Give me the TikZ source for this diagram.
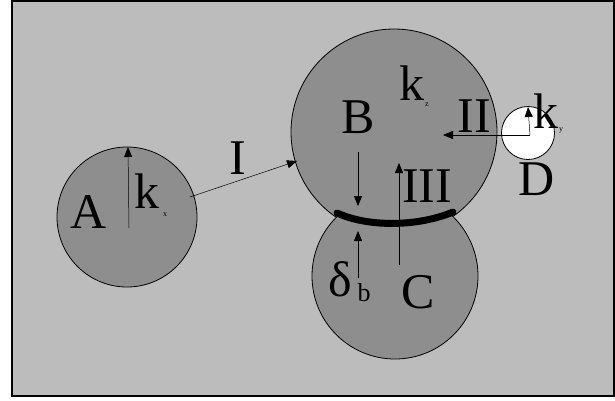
\documentclass[tikz,border=0pt]{standalone}
\usepackage{fontspec}
\setmainfont{Liberation Serif}
\usetikzlibrary{arrows.meta}
\definecolor{bggray}{RGB}{188,188,188}
\definecolor{ballgray}{RGB}{142,142,142}
\tikzset{
  ball/.style={fill=ballgray, draw=black, line width=0.8pt},
  lbl/.style={font=\fontsize{50}{50}\selectfont, inner sep=0pt},
  sub/.style={font=\fontsize{8}{8}\selectfont, inner sep=0pt},
  thinarrow/.style={draw=black, line width=0.5pt, -{Triangle[length=10pt,width=8pt]}},
}
\begin{document}
\begin{tikzpicture}[x=1pt,y=-1pt]
\useasboundingbox (0,0) rectangle (615,400);
\fill[bggray] (12,1) rectangle (614,396);
\draw[line width=1.5pt] (12,1) rectangle (614,396);
% circles
\node[ball, circle, minimum size=140pt, inner sep=0pt] (A) at (127,217) {};
\fill[ballgray, draw=black, line width=0.8pt] (395,276) circle (83);
\fill[ballgray, draw=black, line width=0.8pt] (394,132) circle (103);
\begin{scope}
  \clip (394,132) circle (104.5);
  \fill[ballgray] (395,276) circle (82.4);
\end{scope}
\coordinate (Bc) at (394,132);
\coordinate (Cc) at (395,276);
\node[circle, fill=white, draw=black, line width=0.8pt, minimum size=53pt, inner sep=0pt] (D) at (528,133) {};
% contact band
\coordinate (cl) at (337,213);
\coordinate (cr) at (453,212);
\draw[line width=7pt, line cap=round] (cl) .. controls (370,228) and (420,226) .. (cr);
% labels
\node[lbl] (lA) at (89,212) {A};
\node[lbl] (kA) at (147,191) {k};
\node[sub] (sA) at (165,215) {x};
\node[lbl] (lB) at (358,117) {B};
\node[lbl] (kB) at (412,83) {k};
\node[sub] (sB) at (427,105) {z};
\node[lbl] (lII) at (474,116) {II};
\node[lbl] (lIII) at (427,186) {III};
\node[lbl] (lI) at (238,158) {I};
\node[lbl] (lC) at (418,292) {C};
\node[lbl] (lD) at (537,179) {D};
\node[lbl] (kD) at (546,111) {k};
\node[sub] (sD) at (561,131) {y};
\node[lbl, anchor=base] (delta) at (340,296) {δ};
\node[font=\fontsize{26}{26}\selectfont, inner sep=0pt, anchor=base] (sdelta) at (364,301) {b};
% arrows
\coordinate (a0) at (129,228);
\coordinate (a1) at (128,147);
\draw[thinarrow] (a0) -- (a1);
\coordinate (i0) at (190,197);
\coordinate (i1) at (297,161);
\draw[thinarrow] (i0) -- (i1);
\coordinate (d0) at (530,135);
\coordinate (d1) at (443,135);
\draw[thinarrow] (d0) -- (d1);
\coordinate (d2) at (528,107);
\draw[thinarrow] (d0) -- (d2);
\coordinate (b0) at (358,152);
\coordinate (b1) at (358,206);
\draw[thinarrow] (b0) -- (b1);
\coordinate (b2) at (358,278);
\coordinate (b3) at (358,231);
\draw[thinarrow] (b2) -- (b3);
\coordinate (t0) at (399,265);
\coordinate (t1) at (399,163);
\draw[thinarrow] (t0) -- (t1);
\end{tikzpicture}
\end{document}
